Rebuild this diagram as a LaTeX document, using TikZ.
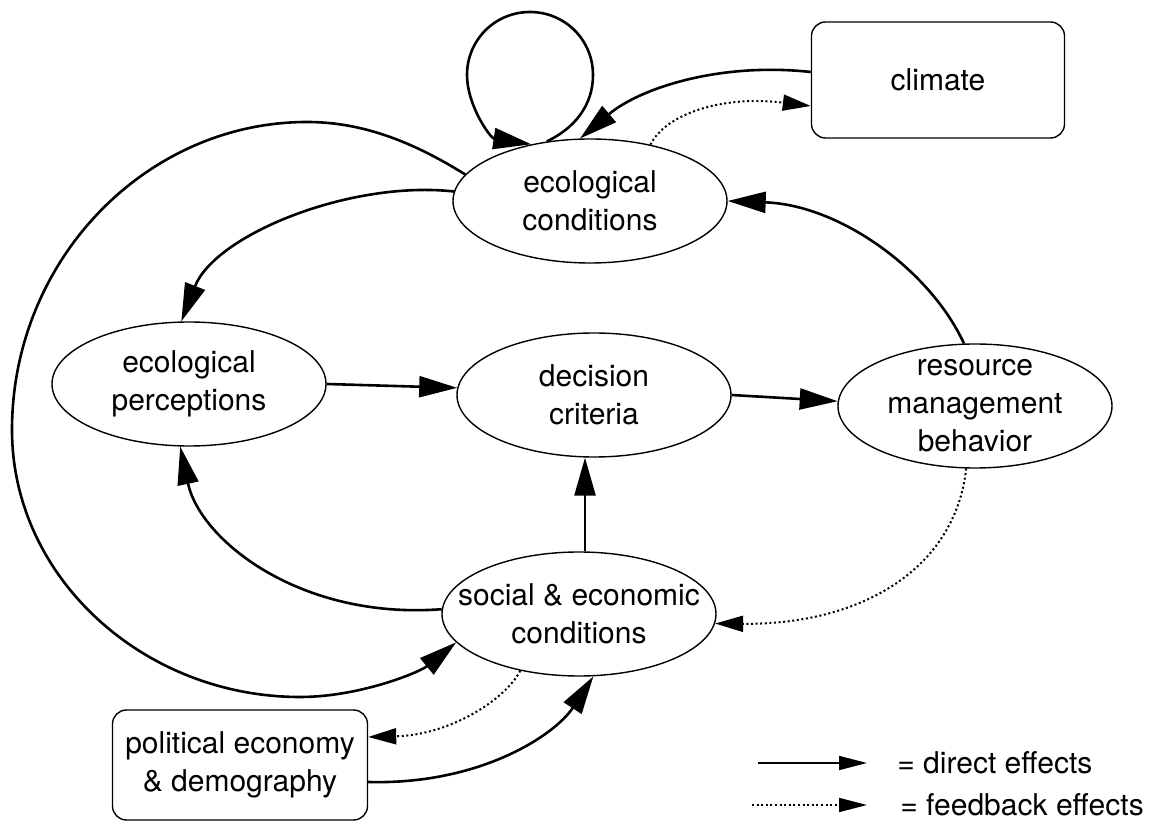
\documentclass[tikz,border=0pt]{standalone}
\usepackage{fontspec}
\setmainfont{TeX Gyre Heros}
\usetikzlibrary{arrows.meta,shapes.geometric}
\tikzset{
  elli/.style={ellipse, draw, line width=0.7pt, minimum width=137pt, minimum height=62pt,
    inner xsep=-20pt, inner ysep=-16pt, align=center},
  rbox/.style={rectangle, rounded corners=7pt, draw, line width=0.7pt, align=center},
  dirarrow/.style={line width=1.3pt, -{Triangle[length=19pt,width=10.5pt]}},
  fbarrow/.style={line width=1pt, dash pattern=on 1pt off 1.3pt, -{Triangle[length=14pt,width=8pt]}},
  legsolid/.style={line width=0.9pt, -{Triangle[length=14pt,width=7pt]}},
  legdot/.style={line width=0.9pt, dash pattern=on 1pt off 1.3pt, -{Triangle[length=14pt,width=7pt]}},
}
\begin{document}
\begin{tikzpicture}[x=0.5pt, y=-0.5pt, font=\fontsize{15}{19}\selectfont]
\fill[white] (0,0) rectangle (1158,823);
\useasboundingbox (0,0) rectangle (1158,823);

% nodes
\node[elli] (EC) at (590,201) {ecological\\conditions};
\node[elli] (EP) at (189,384) {ecological\\perceptions};
\node[elli] (DC) at (594,395) {decision\\criteria};
\node[elli] (RM) at (975,406) {resource\\management\\behavior};
\node[elli] (SE) at (579,614) {social \& economic\\conditions};
\node[rbox, minimum width=126.5pt, minimum height=58pt] (CL) at (938,80) {climate};
\node[rbox, minimum width=127.5pt, minimum height=55pt] (PE) at (240,765) {political economy\\ \& demography};

% self loop on ecological conditions
\draw[dirarrow] (EC.126) .. controls (575,128) and (593,105) .. (593,75)
  .. controls (593,40) and (565,12) .. (530,12)
  .. controls (495,12) and (467,40) .. (467,75)
  .. controls (467,105) and (490,138) .. (EC.136);

% climate <-> ecological conditions
\draw[dirarrow] ([yshift=4pt]CL.west) .. controls (720,62) and (640,88) .. (EC.99);
\draw[fbarrow] (EC.43) .. controls (665,115) and (720,95) .. ([yshift=-13pt]CL.west);

% ecological conditions -> ecological perceptions
\draw[dirarrow] (EC.176) .. controls (350,180) and (215,235) .. (EP.97);

% big loop ecological conditions -> social & economic conditions
\draw[dirarrow] (EC.168) .. controls (410,140) and (360,122) .. (307,122)
  .. controls (146,122) and (12,260) .. (12,430)
  .. controls (12,577) and (143,697) .. (300,697)
  .. controls (360,697) and (420,672) .. (SE.193);

% perceptions -> decision -> resource
\draw[dirarrow] (EP.east) -- (DC.177);
\draw[dirarrow] (DC.east) -- (RM.178);

% resource -> ecological conditions
\draw[dirarrow] (RM.100) .. controls (930,270) and (840,205) .. (EC.east);

% social -> decision
\coordinate (SEn) at ([xshift=3pt]SE.north);
\coordinate (DCs) at ([xshift=-4.5pt]DC.south);
\draw[dirarrow] (SEn) -- (DCs);

% social -> perceptions
\draw[dirarrow] (SE.178) .. controls (300,620) and (200,540) .. (EP.262);

% resource -> social (feedback)
\draw[fbarrow] (RM.262) .. controls (955,570) and (860,625) .. (SE.356);

% social <-> political economy
\draw[fbarrow] (SE.224) .. controls (505,700) and (450,735) .. ([yshift=14pt]PE.east);
\draw[dirarrow] ([yshift=-8.5pt]PE.east) .. controls (480,785) and (555,735) .. (SE.283);

% legend
\coordinate (La) at (758,763);
\coordinate (Lb) at (867,763);
\coordinate (Lc) at (752,805);
\coordinate (Ld) at (867,805);
\draw[legsolid] (La) -- (Lb);
\draw[legdot] (Lc) -- (Ld);
\node[anchor=west, inner sep=0pt] (Lt1) at (897,763) {= direct effects};
\node[anchor=west, inner sep=0pt] (Lt2) at (900,805) {= feedback effects};
\end{tikzpicture}
\end{document}
